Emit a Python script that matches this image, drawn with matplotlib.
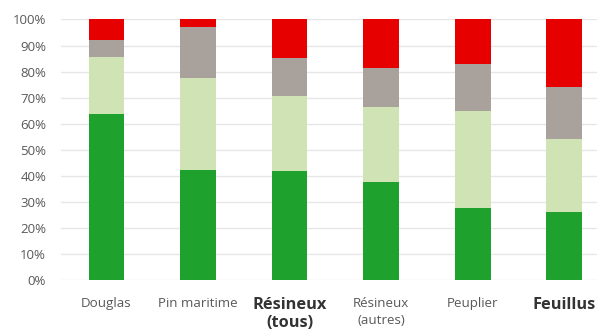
import matplotlib
matplotlib.use("Agg")
import matplotlib.pyplot as plt
import numpy as np

categories = ["Douglas", "Pin maritime", "Résineux\n(tous)", "Résineux\n(autres)", "Peuplier", "Feuillus"]
bold_flags = [False, False, True, False, False, True]
seg1 = [63.6, 42.2, 41.8, 37.7, 27.5, 26.0]
seg2 = [22.1, 35.5, 29.0, 28.7, 37.3, 28.0]
seg3 = [6.3, 19.3, 14.4, 15.0, 18.0, 20.2]
seg4 = [8.0, 3.0, 14.8, 18.6, 17.2, 25.8]
colors = ["#1FA12E", "#D0E3B5", "#A8A19C", "#E60000"]
yticks = [0, 10, 20, 30, 40, 50, 60, 70, 80, 90, 100]
ytick_labels = [f"{v}%" for v in yticks]

plt.rcParams['font.family'] = ['Open Sans', 'DejaVu Sans']

fig = plt.figure(figsize=(5.97, 3.31), dpi=100)
ax = fig.add_axes([60.7/597, 1-280/331, (610-60.7)/597, (280-19.5)/331])

x = np.arange(len(categories))
bottom = np.zeros(len(categories))
for vals, c in zip([seg1, seg2, seg3, seg4], colors):
    ax.bar(x, vals, bottom=bottom, width=0.39, color=c, zorder=3, linewidth=0)
    bottom += np.array(vals)

ax.set_xlim(-0.5, 5.5)
ax.set_ylim(0, 100)
ax.set_yticks(yticks)
ax.set_yticklabels(ytick_labels, fontsize=9.5, color="#595959")
ax.yaxis.grid(True, color="#E6E6E6", linewidth=1, zorder=0)
ax.set_axisbelow(True)
for s in ax.spines.values():
    s.set_visible(False)
ax.tick_params(axis='both', length=0)
ax.tick_params(axis='y', pad=10.5)

ax.set_xticks(x)
ax.set_xticklabels(categories)
for lab, b in zip(ax.get_xticklabels(), bold_flags):
    if b:
        lab.set_linespacing(1.2)
        lab.set_fontweight('bold')
        lab.set_fontsize(11.8)
        lab.set_color("#333333")
    else:
        lab.set_linespacing(1.45)
        lab.set_fontsize(9.6)
        lab.set_color("#595959")
ax.tick_params(axis='x', pad=12)

fig.savefig("out.png", dpi=100)
